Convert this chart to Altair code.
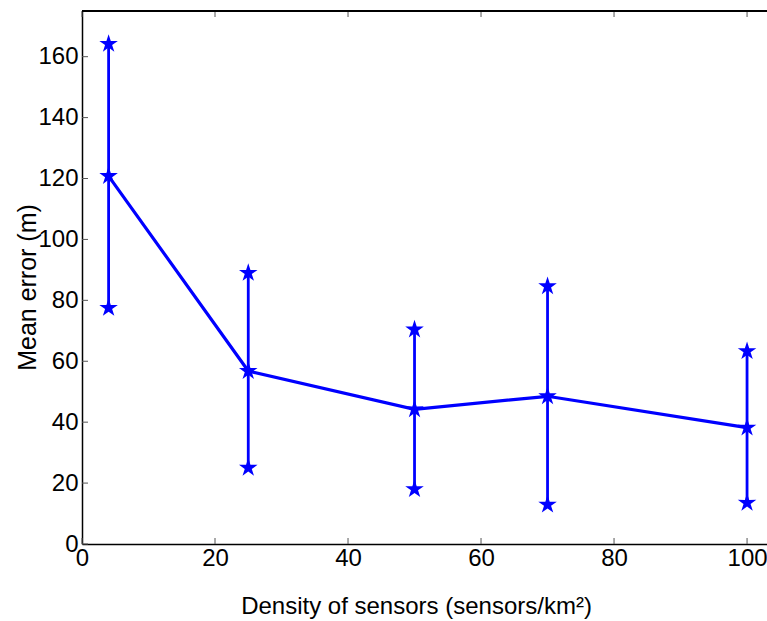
import altair as alt
import pandas as pd

# Sensor density (sensors/km^2) and localisation error statistics (m)
density = [4, 25, 50, 70, 100]
mean_err = [120.8, 56.8, 44.2, 48.5, 38.2]
low_err = [77.5, 25.0, 18.0, 12.9, 13.5]
high_err = [164.2, 89.0, 70.4, 84.6, 63.3]

x_ticks = [0, 20, 40, 60, 80, 100]
y_ticks = [0, 20, 40, 60, 80, 100, 120, 140, 160]

W, H = 685, 533
FONT = "Liberation Sans"
BLUE = "#0000ff"
STAR = ("M0,-1L0.2234,-0.3074L0.951,-0.309L0.3614,0.1174L0.5878,0.809"
        "L0,0.38L-0.5878,0.809L-0.3614,0.1174L-0.951,-0.309L-0.2234,-0.3074Z")

df = pd.DataFrame({"d": density, "m": mean_err, "lo": low_err, "hi": high_err})
pts = pd.DataFrame({
    "d": density * 3,
    "v": mean_err + low_err + high_err,
})
xt = pd.DataFrame({"t": x_ticks})
yt = pd.DataFrame({"t": y_ticks})

xscale = alt.Scale(domain=[0, 103], nice=False, zero=False)
yscale = alt.Scale(domain=[0, 175], nice=False)

x_axis = alt.Axis(
    title="Density of sensors (sensors/km\u00b2)", values=x_ticks, grid=False,
    ticks=False, domainColor="black", domainWidth=1.5, labelFont=FONT,
    labelFontSize=24, labelColor="black", labelPadding=2, labelFlush=False,
    titleFont=FONT, titleFontSize=24, titleFontWeight="normal", titleColor="black",
    titleX=334, titleY=69, titleBaseline="alphabetic", titleAnchor="middle",
    labelOverlap=False,
)
y_axis = alt.Axis(
    title="Mean error (m)", values=y_ticks, grid=False, ticks=False,
    domainColor="black", domainWidth=1.5, labelFont=FONT, labelFontSize=24,
    labelColor="black", labelPadding=4, labelFlush=False, labelOverlap=False,
    titleFont=FONT, titleFontSize=25, titleFontWeight="normal", titleColor="black",
    titleX=-47, titleY=276, titleBaseline="alphabetic", titleAnchor="middle",
)

base = alt.Chart(df)

bars = base.mark_rule(color=BLUE, strokeWidth=2.8).encode(
    x=alt.X("d:Q", scale=xscale, axis=x_axis),
    y=alt.Y("lo:Q", scale=yscale, axis=y_axis),
    y2="hi:Q",
)

line = base.mark_line(color=BLUE, strokeWidth=3.2).encode(
    x=alt.X("d:Q", scale=xscale),
    y=alt.Y("m:Q", scale=yscale),
)

stars = alt.Chart(pts).mark_point(
    shape=STAR, filled=True, color=BLUE, size=380, opacity=1
).encode(
    x=alt.X("d:Q", scale=xscale),
    y=alt.Y("v:Q", scale=yscale),
)

# inward tick marks (bottom, top, left) and top frame line
tick_style = dict(color="#555555", strokeWidth=1)
bottom_ticks = alt.Chart(xt).mark_rule(**tick_style).encode(
    x=alt.X("t:Q", scale=xscale), y=alt.value(H), y2=alt.value(H - 6)
)
top_ticks = alt.Chart(xt).mark_rule(**tick_style).encode(
    x=alt.X("t:Q", scale=xscale), y=alt.value(0), y2=alt.value(6)
)
left_ticks = alt.Chart(yt).mark_rule(**tick_style).encode(
    y=alt.Y("t:Q", scale=yscale), x=alt.value(0), x2=alt.value(6)
)
top_frame = alt.Chart(xt).mark_rule(color="black", strokeWidth=1.5).encode(
    x=alt.value(0), x2=alt.value(W + 5), y=alt.value(0)
)

chart = alt.layer(
    bottom_ticks, top_ticks, left_ticks, top_frame, bars, line, stars
).properties(
    width=W, height=H,
    autosize=alt.AutoSizeParams(type="none"),
    padding={"left": 82, "top": 11, "right": 0, "bottom": 77},
    background="white",
).configure_view(stroke=None)

chart.save("out.html", embed_options={"renderer": "svg", "actions": False})
